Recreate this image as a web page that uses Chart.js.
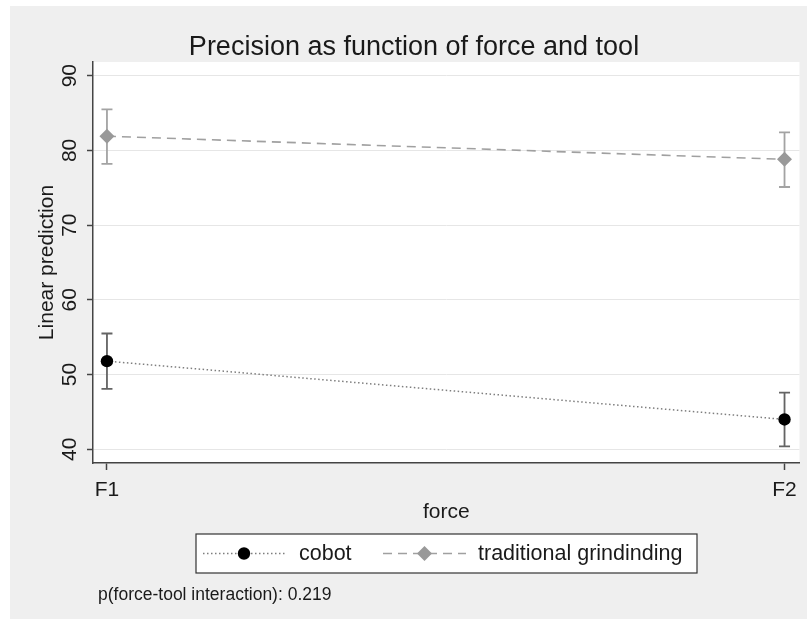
<!DOCTYPE html>
<html><head><meta charset="utf-8">
<script src="https://cdn.jsdelivr.net/npm/chart.js@4.4.0/dist/chart.umd.min.js"></script>
<style>
html,body{margin:0;padding:0;background:#fff;}
#wrap{position:relative;width:807px;height:619px;overflow:hidden;}
#bg{position:absolute;left:10px;top:6px;right:0;bottom:0;background:#efefef;}
canvas{position:absolute;left:0;top:0;}
</style></head><body>
<div id="wrap"><div id="bg"></div><canvas id="c" width="807" height="619"></canvas></div>
<script>
// ---- data ----
const categories = ['F1', 'F2'];
const forceLevels = [1, 2];
const cobotMean = [51.8, 44.0];
const cobotLow = [48.1, 40.4];
const cobotHigh = [55.5, 47.6];
const tradMean = [81.9, 78.8];
const tradLow = [78.2, 75.1];
const tradHigh = [85.5, 82.4];
const yTicks = [40, 50, 60, 70, 80, 90];
const seriesNames = ['cobot', 'traditional grindinding'];
const titleText = 'Precision as function of force and tool';
const xTitle = 'force';
const yTitle = 'Linear prediction';
const noteText = 'p(force-tool interaction): 0.219';

const FONT = '"Liberation Sans", Arial, Helvetica, sans-serif';
const TXT = '#1a1a1a';

const ciLow = [cobotLow, tradLow];
const ciHigh = [cobotHigh, tradHigh];
const ciColor = ['#646464', '#a3a3a3'];

const plotBg = {
  id: 'plotBg',
  beforeDraw(chart) {
    const {ctx, chartArea: a} = chart;
    ctx.save();
    ctx.fillStyle = '#ffffff';
    ctx.fillRect(a.left, a.top, a.right - a.left, a.bottom - a.top);
    ctx.restore();
  }
};

const errorBars = {
  id: 'errorBars',
  beforeDatasetsDraw(chart) {
    const {ctx} = chart;
    const xs = chart.scales.x, ys = chart.scales.y;
    ctx.save();
    chart.data.datasets.forEach((ds, i) => {
      ctx.strokeStyle = ciColor[i];
      ctx.lineWidth = 1.8;
      forceLevels.forEach((fx, j) => {
        const x = xs.getPixelForValue(fx);
        const y1 = ys.getPixelForValue(ciLow[i][j]);
        const y2 = ys.getPixelForValue(ciHigh[i][j]);
        ctx.beginPath();
        ctx.moveTo(x, y1); ctx.lineTo(x, y2);
        ctx.moveTo(x - 5.5, y1); ctx.lineTo(x + 5.5, y1);
        ctx.moveTo(x - 5.5, y2); ctx.lineTo(x + 5.5, y2);
        ctx.stroke();
      });
    });
    ctx.restore();
  }
};

const texts = {
  id: 'texts',
  afterDraw(chart) {
    const {ctx} = chart;
    const ys = chart.scales.y;
    ctx.save();
    ctx.fillStyle = TXT;
    // y tick labels, rotated
    ctx.font = '21px ' + FONT;
    ctx.textAlign = 'center';
    ctx.textBaseline = 'middle';
    yTicks.forEach(v => {
      const y = ys.getPixelForValue(v);
      ctx.save();
      ctx.translate(70, y);
      ctx.rotate(-Math.PI / 2);
      ctx.fillText(String(v), 0, 0);
      ctx.restore();
    });
    // title
    ctx.font = '27px ' + FONT;
    ctx.textAlign = 'center';
    ctx.textBaseline = 'alphabetic';
    ctx.fillText(titleText, 414, 55);
    // legend
    const bx = 196, by = 534, bw = 501, bh = 39;
    ctx.fillStyle = '#ffffff';
    ctx.fillRect(bx, by, bw, bh);
    ctx.strokeStyle = '#333333';
    ctx.lineWidth = 1.2;
    ctx.strokeRect(bx, by, bw, bh);
    const cy = by + bh / 2;
    const dsets = chart.data.datasets;
    const samples = [[203, 285, 299], [383, 466, 478]];
    samples.forEach((s, i) => {
      const ds = dsets[i];
      ctx.save();
      ctx.strokeStyle = ds.borderColor;
      ctx.lineWidth = ds.borderWidth;
      ctx.setLineDash(ds.borderDash);
      ctx.beginPath(); ctx.moveTo(s[0], cy); ctx.lineTo(s[1], cy); ctx.stroke();
      ctx.restore();
      ctx.fillStyle = ds.pointBackgroundColor;
      Chart.helpers.drawPoint(ctx, {pointStyle: ds.pointStyle, radius: ds.pointRadius, borderWidth: 0}, (s[0] + s[1]) / 2, cy);
      ctx.fillStyle = TXT;
      ctx.font = '21.5px ' + FONT;
      ctx.textAlign = 'left';
      ctx.textBaseline = 'middle';
      ctx.fillText(seriesNames[i], s[2], cy + 1);
    });
    // note
    ctx.fillStyle = TXT;
    ctx.font = '17.5px ' + FONT;
    ctx.textAlign = 'left';
    ctx.textBaseline = 'alphabetic';
    ctx.fillText(noteText, 98, 600);
    ctx.restore();
  }
};

new Chart(document.getElementById('c'), {
  type: 'line',
  data: {
    datasets: [
      {
        label: seriesNames[0],
        data: forceLevels.map((x, i) => ({x, y: cobotMean[i]})),
        borderColor: '#7e7e7e', borderWidth: 1.5, borderDash: [1.5, 2.5],
        pointStyle: 'circle', pointRadius: 6.2,
        pointBackgroundColor: '#000000', pointBorderColor: '#000000', pointBorderWidth: 0,
        tension: 0
      },
      {
        label: seriesNames[1],
        data: forceLevels.map((x, i) => ({x, y: tradMean[i]})),
        borderColor: '#a0a0a0', borderWidth: 1.6, borderDash: [9, 6],
        pointStyle: 'rectRot', pointRadius: 7.5,
        pointBackgroundColor: '#999999', pointBorderColor: '#999999', pointBorderWidth: 0,
        tension: 0
      }
    ]
  },
  options: {
    responsive: false, devicePixelRatio: 1, animation: false,
    layout: {padding: {top: 62, right: 7, left: 0, bottom: 76}},
    plugins: {legend: {display: false}, title: {display: false}, tooltip: {enabled: false}},
    scales: {
      x: {
        type: 'linear', min: 0.9794, max: 2.0221,
        afterBuildTicks: s => { s.ticks = forceLevels.map(v => ({value: v})); },
        ticks: {
          callback: v => { const k = forceLevels.indexOf(v); return k >= 0 ? categories[k] : ''; },
          font: {family: FONT, size: 21}, color: TXT, padding: 8, maxRotation: 0, autoSkip: false
        },
        grid: {drawOnChartArea: false, drawTicks: true, tickLength: 7, tickColor: '#444', tickWidth: 1.5},
        border: {display: true, color: '#444', width: 1.5},
        title: {display: true, text: xTitle, font: {family: FONT, size: 21}, color: TXT, padding: {top: 0, bottom: 18}},
        afterFit: s => { s.height = 80; }
      },
      y: {
        min: 38.17, max: 91.83,
        afterBuildTicks: s => { s.ticks = yTicks.map(v => ({value: v})); },
        ticks: {callback: () => '', padding: 0},
        grid: {color: '#e6e6e6', lineWidth: 1, drawTicks: true, tickLength: 6, tickColor: '#444', tickWidth: 1.5},
        border: {display: true, color: '#444', width: 1.5},
        title: {display: true, text: yTitle, font: {family: FONT, size: 21}, color: TXT, padding: {top: 35, bottom: 0}},
        afterFit: s => { s.width = 93; }
      }
    }
  },
  plugins: [plotBg, errorBars, texts]
});
</script>
</body></html>
